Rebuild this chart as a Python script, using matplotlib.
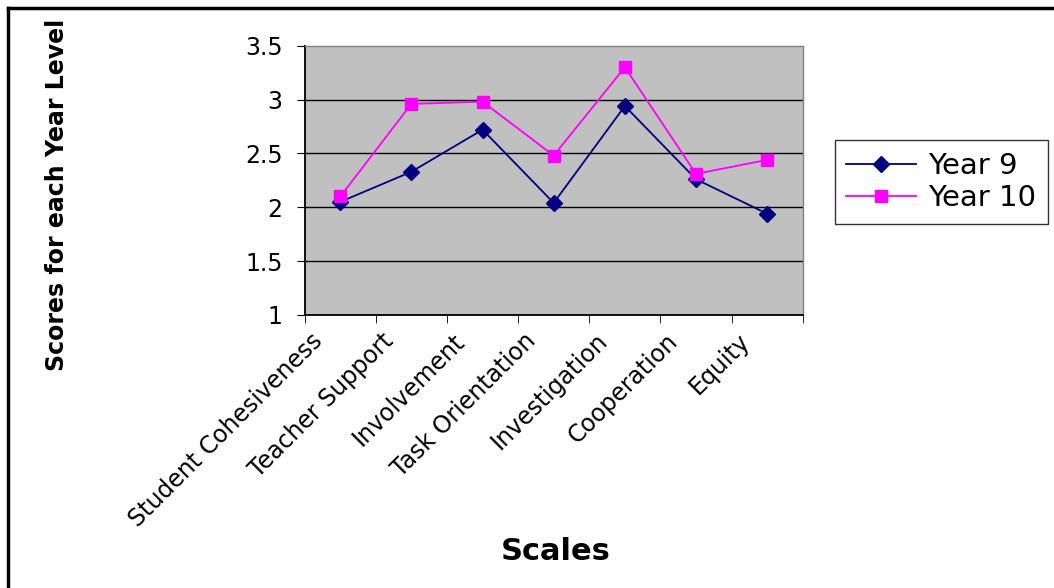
import matplotlib.pyplot as plt
from matplotlib.lines import Line2D
from matplotlib.transforms import ScaledTranslation

# scale scores per year level
scales = ["Student Cohesiveness", "Teacher Support", "Involvement",
          "Task Orientation", "Investigation", "Cooperation", "Equity"]
year9 = [2.05, 2.33, 2.72, 2.04, 2.94, 2.26, 1.94]
year10 = [2.10, 2.96, 2.98, 2.48, 3.30, 2.31, 2.44]
y_ticks = [1, 1.5, 2, 2.5, 3, 3.5]
y_tick_labels = ["1", "1.5", "2", "2.5", "3", "3.5"]

plt.rcParams["font.family"] = ["DejaVu Sans"]

fig = plt.figure(figsize=(10.54, 5.88), dpi=100)
ax = fig.add_axes([0.2891, 0.4643, 0.4725, 0.458])
ax.set_facecolor("#C0C0C0")

x = list(range(len(scales)))
ax.plot(x, year9, color="#000080", lw=1.3, marker="D", ms=8,
        mfc="#000080", mec="#000080", label="Year 9", zorder=3)
ax.plot(x, year10, color="#FF00FF", lw=1.3, marker="s", ms=9,
        mfc="#FF00FF", mec="#FF00FF", label="Year 10", zorder=3)

ax.set_ylim(1, 3.5)
ax.set_xlim(-0.5, len(scales) - 0.5)
ax.set_yticks(y_ticks, y_tick_labels)
for v in y_ticks[1:-1]:
    ax.axhline(v, color="black", lw=1, zorder=1)

# category labels at centres, tick marks on the boundaries
ax.set_xticks(x, scales, rotation=45, ha="right", rotation_mode="anchor")
ax.set_xticks([i - 0.5 for i in range(len(scales) + 1)], minor=True)
ax.tick_params(axis="x", which="major", length=0, labelsize=17, pad=10)
ax.tick_params(axis="x", which="minor", length=6, direction="out", color="black")
ax.tick_params(axis="y", length=6, direction="out", labelsize=17, pad=10)
shift = ScaledTranslation(-0.3, 0, fig.dpi_scale_trans)
for lab in ax.get_xticklabels():
    lab.set_transform(lab.get_transform() + shift)

for side in ["left", "bottom"]:
    ax.spines[side].set_color("black")
    ax.spines[side].set_linewidth(1.3)
for side in ["top", "right"]:
    ax.spines[side].set_color("#808080")
    ax.spines[side].set_linewidth(1)

fig.text(0.054, 1 - 195 / 588, "Scores for each Year Level", rotation=90,
         ha="center", va="center", fontsize=17, fontweight="bold")
fig.text(556 / 1054, 1 - 551 / 588, "Scales", ha="center", va="center",
         fontsize=22, fontweight="bold")

leg = fig.legend(loc="center", bbox_to_anchor=(941 / 1054, 1 - 182 / 588),
                 fontsize=21, frameon=True, fancybox=False, handlelength=2.4,
                 handletextpad=0.4, borderpad=0.4, labelspacing=0.15)
leg.get_frame().set_edgecolor("black")
leg.get_frame().set_linewidth(1)

# outer border lines
fig.add_artist(Line2D([8 / 1054, 8 / 1054], [0, 1 - 8 / 588], color="black", lw=2.5))
fig.add_artist(Line2D([8 / 1054, 1], [1 - 8 / 588, 1 - 8 / 588], color="black", lw=2.5))

fig.savefig("out.png", dpi=100)
